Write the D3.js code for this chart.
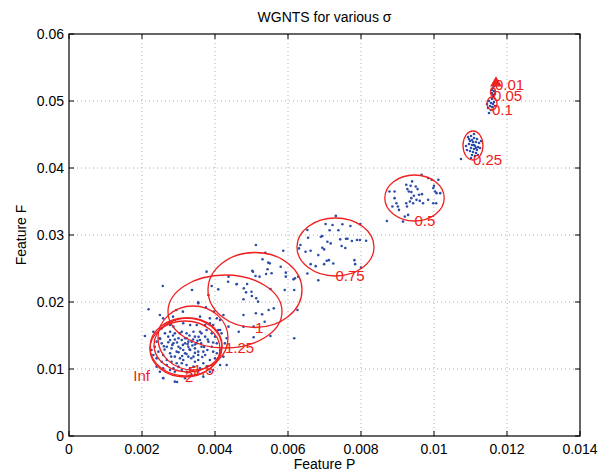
<!DOCTYPE html>
<html>
<head>
<meta charset="utf-8">
<script src="https://cdn.jsdelivr.net/npm/d3@7"></script>
<style>
    body { margin: 0; background: #fff; }
    svg text { font-family: "Liberation Sans", Arial, sans-serif; }
</style>
</head>
<body>
<div id="chart"></div>
<script>
// sigma levels with mean / spread of each cluster (Feature P, Feature F)
const sigmaLabels = ["0.01", "0.05", "0.1", "0.25", "0.5", "0.75", "1", "1.25", "1.5", "5", "2", "Inf"];
const meanP = [0.011671, 0.011616, 0.011589, 0.011068, 0.009466, 0.007301, 0.005096, 0.004274, 0.003397, 0.003260, 0.003178, 0.003205];
const meanF = [0.052686, 0.051342, 0.049626, 0.043358, 0.035522, 0.028208, 0.021790, 0.018582, 0.014627, 0.013582, 0.012985, 0.013283];
const sdP = [0.00003, 0.0000685, 0.000137, 0.000274, 0.000814, 0.001055, 0.001288, 0.001562, 0.000959, 0.000931, 0.000959, 0.000986];
const sdF = [0.0003, 0.0006, 0.00097, 0.002164, 0.003433, 0.004328, 0.005597, 0.005448, 0.004776, 0.00403, 0.004179, 0.004328];

// samples, [P, F]
const samplesSmall = [
    [0.011616, 0.051939], [0.011644, 0.051492], [0.011589, 0.051193], [0.011616, 0.050895],
    [0.011644, 0.052238], [0.011589, 0.051641], [0.011671, 0.051044], [0.011616, 0.050596],
    [0.011507, 0.049999], [0.011562, 0.049701], [0.011616, 0.049551], [0.011534, 0.049253],
    [0.011589, 0.049103], [0.011479, 0.048954], [0.011644, 0.049850], [0.011562, 0.048656],
    [0.011507, 0.048208], [0.011589, 0.050298], [0.011452, 0.049551], [0.011671, 0.049253]
];
const samples025 = [
    [0.010931, 0.044627], [0.011014, 0.044775], [0.011096, 0.044478], [0.011178, 0.044328],
    [0.010986, 0.044030], [0.011068, 0.043881], [0.011151, 0.043881], [0.011233, 0.043731],
    [0.010959, 0.043582], [0.011041, 0.043433], [0.011123, 0.043283], [0.011205, 0.043134],
    [0.011014, 0.042985], [0.011096, 0.042835], [0.011178, 0.042686], [0.010986, 0.042537],
    [0.011068, 0.042388], [0.011151, 0.042238], [0.011041, 0.041940], [0.011123, 0.041791],
    [0.010959, 0.044328], [0.011260, 0.042985], [0.010877, 0.043283], [0.011096, 0.045074],
    [0.011014, 0.041492], [0.011205, 0.041940], [0.010740, 0.041343], [0.011288, 0.044030],
    [0.010904, 0.042686], [0.011096, 0.043433], [0.011041, 0.044179], [0.011151, 0.042985]
];
const samples05 = [
    [0.00966, 0.0390], [0.00940, 0.0380], [0.00924, 0.0375], [0.00936, 0.03735], [0.00927, 0.03685],
    [0.00931, 0.0365], [0.00938, 0.0364], [0.00950, 0.03725], [0.00955, 0.03685], [0.00959, 0.0360],
    [0.00967, 0.0361], [0.00945, 0.03585], [0.00938, 0.0355], [0.00952, 0.03525], [0.00934, 0.0350],
    [0.00924, 0.03475], [0.00943, 0.03475], [0.00961, 0.0351], [0.00984, 0.03525], [0.00998, 0.0370],
    [0.01003, 0.0365], [0.01007, 0.03625], [0.01000, 0.03735], [0.01012, 0.03825], [0.00994, 0.03825],
    [0.00878, 0.0365], [0.00892, 0.0365], [0.00892, 0.0355], [0.00897, 0.03475], [0.00886, 0.03425],
    [0.00901, 0.03425], [0.00904, 0.03375], [0.00920, 0.03275], [0.00929, 0.0330], [0.00915, 0.0320],
    [0.00871, 0.0321], [0.00926, 0.03425], [0.00970, 0.03475], [0.00998, 0.03475], [0.01017, 0.03625],
    [0.01006, 0.03475], [0.00984, 0.0385]
];
const samples075 = [
    [0.00731, 0.03285], [0.00703, 0.03165], [0.00722, 0.0315], [0.00749, 0.0316], [0.00771, 0.03135],
    [0.00798, 0.03165], [0.00653, 0.03075], [0.00714, 0.0307], [0.00738, 0.0307], [0.00690, 0.02975],
    [0.00694, 0.02985], [0.00743, 0.02935], [0.00759, 0.02945], [0.00763, 0.02945], [0.00775, 0.0291],
    [0.00789, 0.02925], [0.00814, 0.02915], [0.00655, 0.0296], [0.00708, 0.0290], [0.00717, 0.02875],
    [0.00634, 0.0285], [0.00694, 0.0281], [0.00662, 0.02765], [0.00648, 0.0275], [0.00747, 0.02835],
    [0.00757, 0.02805], [0.00683, 0.0270], [0.00706, 0.02615], [0.00712, 0.02625], [0.00662, 0.02565],
    [0.00676, 0.02535], [0.00699, 0.02565], [0.00724, 0.02575], [0.00782, 0.02625], [0.00784, 0.02565],
    [0.00653, 0.02425], [0.00683, 0.02325], [0.00800, 0.02515], [0.00797, 0.02925], [0.00630, 0.0280],
    [0.00699, 0.02785]
];
const samples1 = [
    [0.00512, 0.02851], [0.00538, 0.02736], [0.00587, 0.02766], [0.00530, 0.02637], [0.00550, 0.02577],
    [0.00580, 0.02527], [0.00594, 0.02378], [0.00594, 0.02438], [0.00504, 0.02453], [0.00511, 0.02388],
    [0.00522, 0.02378], [0.00540, 0.02418], [0.00555, 0.02428], [0.00437, 0.02378], [0.00460, 0.02269],
    [0.00488, 0.02269], [0.00479, 0.02204], [0.00485, 0.02144], [0.00500, 0.02154], [0.00513, 0.02055],
    [0.00518, 0.02005], [0.00478, 0.0204], [0.00501, 0.0209], [0.00552, 0.02194], [0.00591, 0.02179],
    [0.00617, 0.02179], [0.00615, 0.02338], [0.00626, 0.01881], [0.00617, 0.01458], [0.00512, 0.01831],
    [0.00529, 0.01816], [0.00478, 0.01806], [0.00547, 0.01881], [0.00561, 0.01905], [0.00552, 0.01493],
    [0.00506, 0.01473], [0.00478, 0.01632], [0.00536, 0.01706], [0.00546, 0.02587], [0.00502, 0.02467],
    [0.00544, 0.02488], [0.00619, 0.02354], [0.00628, 0.02378], [0.00436, 0.02303], [0.00459, 0.02264],
    [0.00506, 0.01632], [0.00465, 0.01557]
];
const samples125 = [
    [0.00382, 0.02104], [0.00409, 0.02189], [0.00391, 0.02239], [0.00377, 0.02453], [0.00337, 0.02179],
    [0.00257, 0.02239], [0.00218, 0.01891], [0.00354, 0.01995], [0.00375, 0.0192], [0.00397, 0.01856],
    [0.00405, 0.01756], [0.00423, 0.01806], [0.00437, 0.01632], [0.00386, 0.01682], [0.00359, 0.01781],
    [0.00312, 0.01856], [0.00294, 0.01881], [0.00285, 0.01781], [0.00414, 0.01582]
];
const samplesDense = [
    [0.00208, 0.01493], [0.00249, 0.01806], [0.00258, 0.01756], [0.00290, 0.01731], [0.00286, 0.01632],
    [0.00309, 0.01557], [0.00332, 0.01657], [0.00354, 0.01980], [0.00386, 0.01756], [0.00395, 0.01657],
    [0.00414, 0.01731], [0.00409, 0.01582], [0.00418, 0.01532], [0.00432, 0.01458], [0.00427, 0.01383],
    [0.00414, 0.01284], [0.00405, 0.01234], [0.00400, 0.01159], [0.00386, 0.01134], [0.00373, 0.01209],
    [0.00363, 0.01333], [0.00350, 0.01383], [0.00345, 0.01483], [0.00336, 0.01408], [0.00322, 0.01458],
    [0.00318, 0.01383], [0.00309, 0.01433], [0.00300, 0.01333], [0.00286, 0.01383], [0.00277, 0.01433],
    [0.00268, 0.01333], [0.00254, 0.01383], [0.00240, 0.01408], [0.00245, 0.01259], [0.00258, 0.01209],
    [0.00277, 0.01234], [0.00290, 0.01184], [0.00304, 0.01159], [0.00318, 0.01234], [0.00332, 0.01284],
    [0.00341, 0.01184], [0.00354, 0.01134], [0.00368, 0.01085], [0.00377, 0.01035], [0.00359, 0.01010],
    [0.00341, 0.01035], [0.00322, 0.01060], [0.00309, 0.01085], [0.00295, 0.01085], [0.00281, 0.01109],
    [0.00268, 0.01134], [0.00254, 0.01109], [0.00240, 0.01159], [0.00231, 0.01209], [0.00226, 0.01284],
    [0.00235, 0.01333], [0.00248, 0.01458], [0.00263, 0.01532], [0.00277, 0.01557], [0.00290, 0.01532],
    [0.00304, 0.01532], [0.00322, 0.01532], [0.00341, 0.01557], [0.00359, 0.01557], [0.00373, 0.01483],
    [0.00382, 0.01408], [0.00391, 0.01333], [0.00395, 0.01259], [0.00379, 0.01284], [0.00368, 0.01259],
    [0.00354, 0.01259], [0.00327, 0.01184], [0.00313, 0.01134], [0.00300, 0.01035], [0.00286, 0.01010],
    [0.00277, 0.00985], [0.00258, 0.01010], [0.00268, 0.01060], [0.00290, 0.00960], [0.00309, 0.00985],
    [0.00322, 0.00960], [0.00336, 0.00910], [0.00354, 0.00960], [0.00258, 0.00861], [0.00290, 0.00811],
    [0.00368, 0.00886], [0.00386, 0.00960], [0.00395, 0.00985], [0.00281, 0.01308], [0.00295, 0.01259],
    [0.00313, 0.01284], [0.00327, 0.01333], [0.00345, 0.01308], [0.00359, 0.01433], [0.00363, 0.01532],
    [0.00377, 0.01582], [0.00350, 0.01657], [0.00313, 0.01682], [0.00277, 0.01657], [0.00254, 0.01607],
    [0.00231, 0.01557], [0.00240, 0.01035], [0.00249, 0.00960], [0.00400, 0.01483], [0.00405, 0.01383],
    [0.00318, 0.00861], [0.00332, 0.01010], [0.00345, 0.01109], [0.00272, 0.01483], [0.00300, 0.01458],
    [0.00327, 0.01408], [0.00354, 0.01209], [0.00391, 0.01532], [0.00373, 0.01657], [0.00423, 0.01184],
    [0.00432, 0.01060], [0.00414, 0.01060], [0.00312, 0.01360], [0.00325, 0.01372], [0.00338, 0.01350],
    [0.00296, 0.01395], [0.00283, 0.01360], [0.00305, 0.01310], [0.00330, 0.01295], [0.00345, 0.01365],
    [0.00352, 0.01420], [0.00290, 0.01440], [0.00272, 0.01400], [0.00318, 0.01460], [0.00340, 0.01440],
    [0.00362, 0.01385], [0.00370, 0.01330], [0.00262, 0.01290], [0.00300, 0.01250], [0.00322, 0.01225],
    [0.00345, 0.01240], [0.00365, 0.01180], [0.00280, 0.01185], [0.00310, 0.01195], [0.00335, 0.01160],
    [0.00260, 0.01340], [0.00250, 0.01450], [0.00285, 0.01500], [0.00330, 0.01500], [0.00355, 0.01480],
    [0.00380, 0.01440], [0.00395, 0.01395], [0.00296, 0.00806], [0.00258, 0.00866]
];

const xTicks = [0, 0.002, 0.004, 0.006, 0.008, 0.01, 0.012, 0.014];
const yTicks = [0, 0.01, 0.02, 0.03, 0.04, 0.05, 0.06];

var width = 608;
var height = 473;
var margin = { top: 34, right: 28, bottom: 37, left: 69 };

var svg = d3.select("#chart")
    .append("svg")
    .attr("width", width)
    .attr("height", height);

var x = d3.scaleLinear()
    .domain([0, 0.014])
    .range([margin.left, width - margin.right]);

var y = d3.scaleLinear()
    .domain([0, 0.06])
    .range([height - margin.bottom, margin.top]);

var fmt = function (d) { return d === 0 ? "0" : String(+d.toFixed(4)); };

// dotted grid
svg.append("g")
    .selectAll("line")
    .data(xTicks.slice(1, -1))
    .enter().append("line")
    .attr("x1", d => x(d)).attr("x2", d => x(d))
    .attr("y1", y(0)).attr("y2", y(0.06))
    .attr("stroke", "#999")
    .attr("stroke-width", 0.8)
    .attr("stroke-dasharray", "1,3");

svg.append("g")
    .selectAll("line")
    .data(yTicks.slice(1, -1))
    .enter().append("line")
    .attr("y1", d => y(d)).attr("y2", d => y(d))
    .attr("x1", x(0)).attr("x2", x(0.014))
    .attr("stroke", "#999")
    .attr("stroke-width", 0.8)
    .attr("stroke-dasharray", "1,3");

// sample points
var allSamples = [].concat(samplesSmall, samples025, samples05, samples075, samples1, samples125, samplesDense);
svg.append("g")
    .selectAll("circle")
    .data(allSamples)
    .enter().append("circle")
    .attr("cx", d => x(d[0]))
    .attr("cy", d => y(d[1]))
    .attr("r", 1.3)
    .attr("fill", "#2c4ea8");

// ellipses
var levels = sigmaLabels.map(function (s, i) {
    return { label: s, p: meanP[i], f: meanF[i], sp: sdP[i], sf: sdF[i] };
});

svg.append("g")
    .selectAll("ellipse")
    .data(levels.filter(d => d.label !== "0.01"))
    .enter().append("ellipse")
    .attr("cx", d => x(d.p))
    .attr("cy", d => y(d.f))
    .attr("rx", d => x(d.p + d.sp) - x(d.p))
    .attr("ry", d => y(d.f) - y(d.f + d.sf))
    .attr("fill", "none")
    .attr("stroke", "#f02020")
    .attr("stroke-width", 1.3);

// the smallest sigma collapses to a spike
svg.append("path")
    .datum(levels[0])
    .attr("d", d3.symbol().type(d3.symbolTriangle).size(60))
    .attr("transform", d => "translate(" + (x(d.p) + 1) + "," + y(d.f) + ")")
    .attr("fill", "#f02020");

svg.append("g")
    .selectAll("text")
    .data(levels)
    .enter().append("text")
    .attr("x", d => d.label === "Inf" ? x(d.p - d.sp) : x(d.p))
    .attr("y", d => y(d.f - d.sf))
    .attr("dy", "0.35em")
    .attr("text-anchor", d => d.label === "Inf" ? "end" : "start")
    .attr("fill", "#f02020")
    .style("font-size", "15px")
    .text(d => d.label);

// box and ticks
svg.append("rect")
    .attr("x", x(0))
    .attr("y", y(0.06))
    .attr("width", x(0.014) - x(0))
    .attr("height", y(0) - y(0.06))
    .attr("fill", "none")
    .attr("stroke", "#000")
    .attr("stroke-width", 1.2);

var tickLen = 5;
xTicks.forEach(function (t) {
    svg.append("line").attr("x1", x(t)).attr("x2", x(t))
        .attr("y1", y(0)).attr("y2", y(0) - tickLen).attr("stroke", "#000");
    svg.append("line").attr("x1", x(t)).attr("x2", x(t))
        .attr("y1", y(0.06)).attr("y2", y(0.06) + tickLen).attr("stroke", "#000");
    svg.append("text")
        .attr("x", x(t))
        .attr("y", y(0) + 18)
        .attr("text-anchor", "middle")
        .style("font-size", "14px")
        .text(fmt(t));
});

yTicks.forEach(function (t) {
    svg.append("line").attr("x1", x(0)).attr("x2", x(0) + tickLen)
        .attr("y1", y(t)).attr("y2", y(t)).attr("stroke", "#000");
    svg.append("line").attr("x1", x(0.014)).attr("x2", x(0.014) - tickLen)
        .attr("y1", y(t)).attr("y2", y(t)).attr("stroke", "#000");
    svg.append("text")
        .attr("x", x(0) - 5)
        .attr("y", y(t))
        .attr("dy", "0.35em")
        .attr("text-anchor", "end")
        .style("font-size", "14px")
        .text(fmt(t));
});

// titles
svg.append("text")
    .attr("x", (x(0) + x(0.014)) / 2)
    .attr("y", 22)
    .attr("text-anchor", "middle")
    .style("font-size", "14px")
    .text("WGNTS for various \u03c3");

svg.append("text")
    .attr("x", (x(0) + x(0.014)) / 2)
    .attr("y", 469)
    .attr("text-anchor", "middle")
    .style("font-size", "14px")
    .text("Feature P");

svg.append("text")
    .attr("transform", "translate(26," + (y(0.03)) + ") rotate(-90)")
    .attr("text-anchor", "middle")
    .style("font-size", "14px")
    .text("Feature F");
</script>
</body>
</html>
